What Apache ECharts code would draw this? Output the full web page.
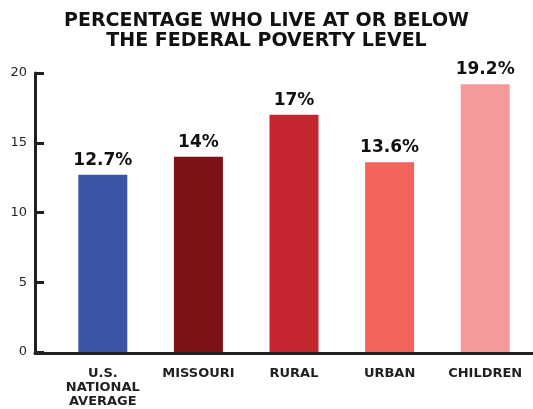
<!DOCTYPE html>
<html>
<head>
<meta charset="utf-8">
<script src="https://cdn.jsdelivr.net/npm/echarts@6/dist/echarts.min.js"></script>
<style>
  html, body { margin: 0; padding: 0; background: #fff; }
  #chart { width: 533px; height: 409px; }
</style>
</head>
<body>
<div id="chart"></div>
<script>
const categories = ["U.S.\nNATIONAL\nAVERAGE", "MISSOURI", "RURAL", "URBAN", "CHILDREN"];
const values = [12.7, 14, 17, 13.6, 19.2];
const barColors = ["#3a55a5", "#7e1116", "#c4262f", "#f2635b", "#f49a9a"];
const yTicks = [0, 5, 10, 15, 20];

const font = "DejaVu Sans";
const ink = "#231f20";

const chart = echarts.init(document.getElementById("chart"));

const option = {
  animation: false,
  title: {
    text: "PERCENTAGE WHO LIVE AT OR BELOW\nTHE FEDERAL POVERTY LEVEL",
    left: "center",
    top: 6,
    textStyle: {
      fontFamily: font,
      fontWeight: "bold",
      fontSize: 19,
      lineHeight: 20,
      color: "#111",
    },
  },
  grid: [
    { left: 55, right: -4, top: 73, bottom: 56 },
    { left: 35, right: 0, top: 73, bottom: 56 },
  ],
  xAxis: [
    {
      type: "category",
      gridIndex: 0,
      data: categories,
      axisLine: { show: false },
      axisTick: { show: false },
      axisLabel: {
        fontFamily: font,
        fontWeight: "bold",
        fontSize: 13,
        lineHeight: 14,
        color: ink,
        margin: 15,
        interval: 0,
        verticalAlign: "top",
      },
    },
    {
      type: "category",
      gridIndex: 1,
      data: [""],
      axisLine: { show: true, lineStyle: { color: ink, width: 3 } },
      axisTick: { show: false },
      axisLabel: { show: false },
    },
  ],
  yAxis: [
    {
      type: "value",
      gridIndex: 0,
      min: yTicks[0],
      max: yTicks[yTicks.length - 1],
      interval: 5,
      offset: 20,
      splitLine: { show: false },
      axisLine: { show: true, lineStyle: { color: ink, width: 3 } },
      axisTick: { show: true, inside: true, length: 9, lineStyle: { color: ink, width: 3 } },
      axisLabel: {
        fontFamily: font,
        fontSize: 13,
        color: ink,
        margin: 8,
      },
    },
    {
      type: "value",
      gridIndex: 1,
      show: false,
      min: 0,
      max: 20,
    },
  ],
  series: [
    {
      type: "bar",
      xAxisIndex: 0,
      yAxisIndex: 0,
      barWidth: 49,
      data: values.map((v, i) => ({ value: v, itemStyle: { color: barColors[i] } })),
      label: {
        show: true,
        position: "top",
        distance: 6,
        formatter: "{c}%",
        fontFamily: font,
        fontWeight: "bold",
        fontSize: 17,
        color: "#111",
      },
    },
  ],
};

chart.setOption(option);
</script>
</body>
</html>
